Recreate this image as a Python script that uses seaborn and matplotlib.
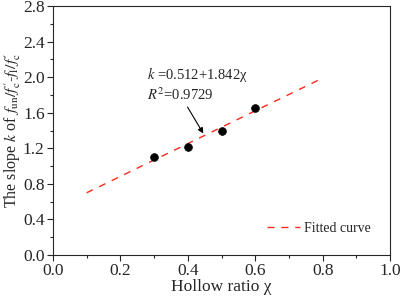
import pandas as pd
import matplotlib
matplotlib.use('Agg')
import matplotlib.pyplot as plt
import seaborn as sns

# measured points
hollow_ratio = [0.3, 0.4, 0.5, 0.6]
slope_k = [1.10, 1.22, 1.40, 1.65]

# fitted line end points
fit_x = [0.1, 0.8]
fit_y = [0.70, 1.99]

sns.set_style('ticks')
plt.rcParams['font.family'] = ['Liberation Serif', 'DejaVu Serif']
plt.rcParams['mathtext.fontset'] = 'stix'

df_pts = pd.DataFrame({'x': hollow_ratio, 'y': slope_k})
df_fit = pd.DataFrame({'x': fit_x, 'y': fit_y})

fig = plt.figure(figsize=(4.01, 2.99), dpi=100)
ax = fig.add_axes([0.132, 0.147, 0.841, 0.833])

sns.lineplot(data=df_fit, x='x', y='y', ax=ax, color='#ff2a1a', linestyle=(0, (5, 5)),
             linewidth=1.0, label='Fitted curve')
sns.scatterplot(data=df_pts, x='x', y='y', ax=ax, color='black', s=32, edgecolor='black',
                zorder=3, legend=False)

ax.set_xlim(0, 1.0)
ax.set_ylim(0, 2.8)
ax.set_xticks([0.0, 0.2, 0.4, 0.6, 0.8, 1.0])
ax.set_xticks([0.1, 0.3, 0.5, 0.7, 0.9], minor=True)
ax.set_yticks([0.0, 0.4, 0.8, 1.2, 1.6, 2.0, 2.4, 2.8])
ax.set_yticks([0.2, 0.6, 1.0, 1.4, 1.8, 2.2, 2.6], minor=True)
ax.xaxis.set_major_formatter(matplotlib.ticker.FormatStrFormatter('%.1f'))
ax.yaxis.set_major_formatter(matplotlib.ticker.FormatStrFormatter('%.1f'))
ax.tick_params(axis='both', which='major', labelsize=12.5, length=4, width=0.8, pad=2)
ax.tick_params(axis='both', which='minor', length=2.5, width=0.8)
for sp in ax.spines.values():
    sp.set_visible(True)
    sp.set_linewidth(0.8)

ax.set_xlabel('Hollow ratio χ', fontsize=12.5, labelpad=0)
ax.set_ylabel(r"The slope $k$ of $f_{\mathrm{un}}/f^{\prime}_{\mathrm{c}}$-$f_{\mathrm{l}}/f^{\prime}_{\mathrm{c}}$",
              fontsize=11.5)
ax.yaxis.set_label_coords(-0.088, 0.5)

ax.text(0.28, 2.03, r'$k$ =0.512+1.842χ', fontsize=10.5, va='center', ha='left')
ax.text(0.28, 1.80, r'$R^2$=0.9729', fontsize=10.5, va='center', ha='left')
ax.annotate('', xy=(0.45, 1.34), xytext=(0.395, 1.69),
            arrowprops=dict(arrowstyle='-|>', color='black', lw=0.8, mutation_scale=8))

ax.legend(loc='lower right', frameon=False, fontsize=10, handlelength=2.4,
          handletextpad=0.3, bbox_to_anchor=(0.98, 0.03))

fig.savefig('out.png', dpi=100)
